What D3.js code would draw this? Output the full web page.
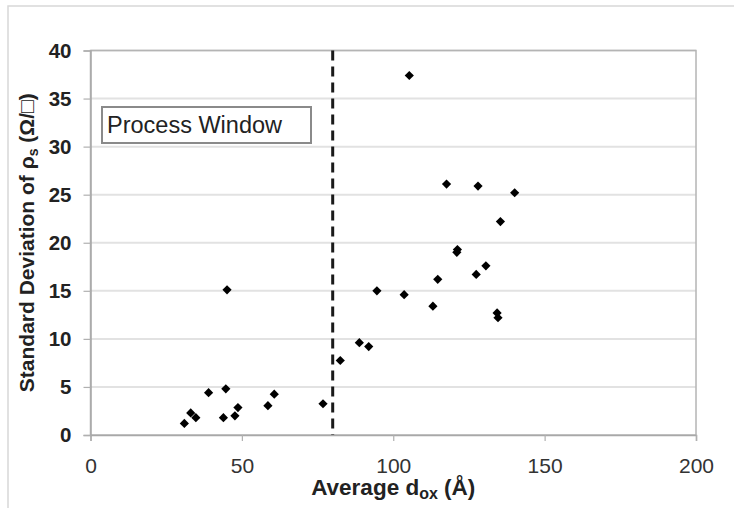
<!DOCTYPE html>
<html>
<head>
<meta charset="utf-8">
<script src="https://cdn.jsdelivr.net/npm/d3@7"></script>
<style>
  html, body { margin: 0; padding: 0; background: #fff; }
  svg { display: block; font-family: "Liberation Sans", Arial, sans-serif; }
</style>
</head>
<body>
<svg id="chart" width="734" height="508"></svg>
<script>
// Oxide thickness (Å) vs. standard deviation of sheet resistance
const thicknessA = [31.0, 33.1, 34.8, 39.0, 43.9, 44.7, 45.1, 47.7, 48.7, 58.6,
                    60.7, 76.8, 82.5, 88.8, 91.9, 94.6, 103.6, 105.3, 113.1, 114.7,
                    117.6, 121.2, 121.0, 127.4, 128.0, 130.6, 134.3, 134.6, 135.4, 140.1];
const sigmaRs    = [1.2, 2.3, 1.8, 4.4, 1.8, 4.8, 15.1, 2.0, 2.85, 3.05,
                    4.25, 3.25, 7.75, 9.6, 9.2, 15.0, 14.6, 37.4, 13.4, 16.2,
                    26.1, 19.3, 19.0, 16.7, 25.9, 17.6, 12.7, 12.2, 22.2, 25.2];
const xTicks = [0, 50, 100, 150, 200];
const yTicks = [0, 5, 10, 15, 20, 25, 30, 35, 40];
const windowEdge = [80];
const boxLabel = ["Process Window"];

const svg = d3.select("#chart");
const plot = { left: 90.5, right: 696, top: 50.5, bottom: 435 };

const x = d3.scaleLinear().domain([0, 200]).range([plot.left, plot.right]);
const y = d3.scaleLinear().domain([0, 40]).range([plot.bottom, plot.top]);

// outer chart frame
svg.append("rect")
  .attr("x", 8).attr("y", 6).attr("width", 760).attr("height", 540)
  .attr("fill", "none").attr("stroke", "#d8d8d8").attr("stroke-width", 1.5);

// horizontal gridlines
svg.append("g").selectAll("line").data(yTicks.slice(1)).join("line")
  .attr("x1", plot.left).attr("x2", plot.right)
  .attr("y1", d => y(d)).attr("y2", d => y(d))
  .attr("stroke", "#e2e2e2").attr("stroke-width", 2);

// plot area border
svg.append("rect")
  .attr("x", plot.left).attr("y", plot.top)
  .attr("width", plot.right - plot.left).attr("height", plot.bottom - plot.top)
  .attr("fill", "none").attr("stroke", "#b4b4b4").attr("stroke-width", 1.5);

// x axis
const xAxis = svg.append("g")
  .attr("transform", `translate(0,${plot.bottom})`)
  .call(d3.axisBottom(x).tickValues(xTicks).tickSize(6).tickPadding(17));
xAxis.select(".domain").attr("stroke", "#a8a8a8").attr("stroke-width", 1.5);
xAxis.selectAll(".tick line").attr("stroke", "#b0b0b0").attr("stroke-width", 1.2);
xAxis.selectAll(".tick text")
  .attr("font-family", "Liberation Sans, Arial, sans-serif")
  .attr("font-size", 21).attr("fill", "#333");

// y axis
const yAxis = svg.append("g")
  .attr("transform", `translate(${plot.left},0)`)
  .call(d3.axisLeft(y).tickValues(yTicks).tickSize(7).tickPadding(12));
yAxis.select(".domain").attr("stroke", "#a8a8a8").attr("stroke-width", 1.5);
yAxis.selectAll(".tick line").attr("stroke", "#b0b0b0").attr("stroke-width", 1.2);
yAxis.selectAll(".tick text")
  .attr("font-family", "Liberation Sans, Arial, sans-serif")
  .attr("font-size", 20.5).attr("font-weight", "bold").attr("fill", "#222");

// process window boundary
svg.append("g").selectAll("line").data(windowEdge).join("line")
  .attr("x1", d => x(d)).attr("x2", d => x(d))
  .attr("y1", y(40)).attr("y2", y(0))
  .attr("stroke", "#1a1a1a").attr("stroke-width", 3)
  .attr("stroke-dasharray", "10,6");

// data points as diamonds
const pts = thicknessA.map((t, i) => ({ t, s: sigmaRs[i] }));
svg.append("g").selectAll("path").data(pts).join("path")
  .attr("transform", d => `translate(${x(d.t)},${y(d.s)})`)
  .attr("d", d3.symbol().type(d3.symbolDiamond2).size(54)())
  .attr("fill", "#000");

// label box
const box = svg.append("g").attr("transform", "translate(102,107)");
box.append("rect").attr("width", 209).attr("height", 36)
  .attr("fill", "#fff").attr("stroke", "#8a8a8a").attr("stroke-width", 2);
box.selectAll("text").data(boxLabel).join("text")
  .attr("x", 5).attr("y", 26)
  .attr("font-size", 23.5).attr("fill", "#222")
  .text(d => d);

// axis titles
svg.append("text")
  .attr("x", (plot.left + plot.right) / 2).attr("y", 495)
  .attr("text-anchor", "middle")
  .attr("font-size", 22.5).attr("font-weight", "bold").attr("fill", "#222")
  .call(t => {
    t.append("tspan").text("Average d");
    t.append("tspan").attr("font-size", 16).attr("dy", 4).text("ox");
    t.append("tspan").attr("dy", -4).text(" (Å)");
  });

svg.append("text")
  .attr("transform", `translate(34,${(plot.top + plot.bottom) / 2}) rotate(-90)`)
  .attr("text-anchor", "middle")
  .attr("font-size", 21).attr("font-weight", "bold").attr("fill", "#222")
  .call(t => {
    t.append("tspan").text("Standard Deviation of ρ");
    t.append("tspan").attr("font-size", 14).attr("dy", 4).text("s");
    t.append("tspan").attr("dy", -4).text(" (Ω/□)");
  });
</script>
</body>
</html>
